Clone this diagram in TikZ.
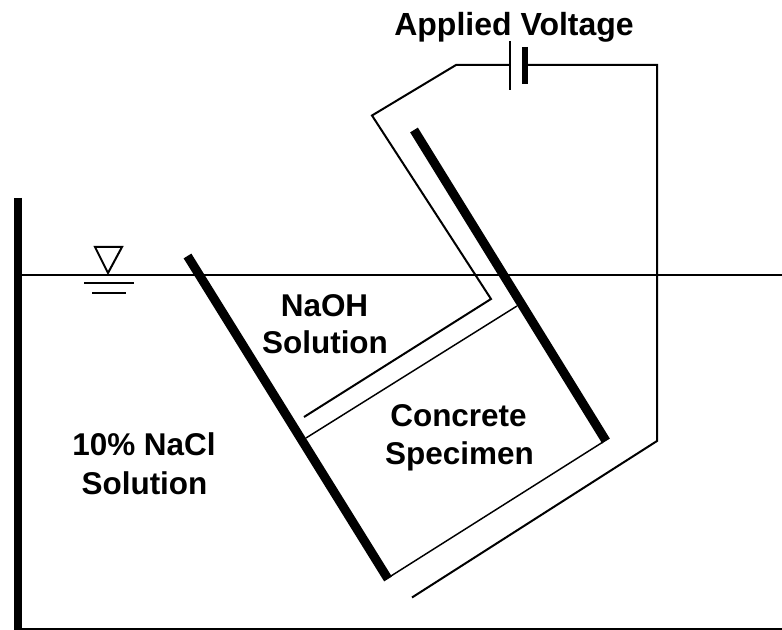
\documentclass[tikz,border=0pt]{standalone}
\usepackage{fontspec}
\setmainfont{Liberation Sans}

\begin{document}
\begin{tikzpicture}[x = 0.75pt, y = -0.75pt, % one unit is one pixel
                line join = miter
            ]

            \tikzstyle{every node}=[inner sep = 0pt, anchor = base,
            font = \fontsize{23.6}{28}\selectfont\bfseries]
            \tikzstyle{wire}=[line width = 1.5pt]
            \tikzstyle{thinwire}=[line width = 1.1pt]
            \tikzstyle{wall}=[line width = 6pt]
            \tikzstyle{slantwall}=[line width = 6.8pt]

            \useasboundingbox (0,0) rectangle (782,630);

            % tank
            \coordinate (walltop) at (18,198); \coordinate (wallbot) at (18,630);
            \coordinate (tankl) at (14,629); \coordinate (tankr) at (782,629);
            \coordinate (waterl) at (22,275); \coordinate (waterr) at (782,275);
            \draw[wall] (walltop) -- (wallbot);
            \draw[line width = 2pt] (tankl) -- (tankr);
            \draw[wire] (waterl) -- (waterr);

            % water level mark
            \coordinate (tria) at (95,247); \coordinate (trib) at (122,247);
            \coordinate (tric) at (108,273);
            \draw[wire] (tria) -- (trib) -- (tric) -- cycle;
            \coordinate (lev1a) at (84,283); \coordinate (lev1b) at (134,283);
            \coordinate (lev2a) at (92,293.5); \coordinate (lev2b) at (126,293.5);
            \draw[wire] (lev1a) -- (lev1b); \draw[wire] (lev2a) -- (lev2b);

            % cell
            \coordinate (lefttop) at (187.5,256); \coordinate (leftbot) at (388,579);
            \coordinate (righttop) at (414,130); \coordinate (rightbot) at (606,441);
            \draw[slantwall] (lefttop) -- (leftbot); \draw[slantwall] (righttop) -- (rightbot);
            \coordinate (spec1a) at (306,438); \coordinate (spec1b) at (517,306);
            \coordinate (spec2a) at (391,576); \coordinate (spec2b) at (603,442);
            \draw[thinwire] (spec1a) -- (spec1b); \draw[thinwire] (spec2a) -- (spec2b);

            % circuit
            \coordinate (w1) at (304,417); \coordinate (w2) at (491,299);
            \coordinate (w3) at (372,115.5); \coordinate (w4) at (456,65);
            \coordinate (w5) at (510,65); \coordinate (w6) at (525,65);
            \coordinate (w7) at (657,65); \coordinate (w8) at (657,441);
            \coordinate (w9) at (412,597.5);
            \draw[wire] (w1) -- (w2) -- (w3) -- (w4) -- (w5);
            \draw[wire] (w6) -- (w7) -- (w8) -- (w9);
            \coordinate (platea) at (510,41); \coordinate (plateb) at (510,90);
            \coordinate (platec) at (525,47); \coordinate (plated) at (525,84);
            \draw[wire] (platea) -- (plateb);
            \draw[line width = 4.5pt] (platec) -- (plated);

            \node (voltage) at (514,36) {\fontsize{24}{28}\selectfont Applied Voltage};
            \node (naoh) at (324.5,316.5) {NaOH};
            \node (solution) at (325,354) {Solution};
            \node (concrete) at (458.5,427) {Concrete};
            \node (specimen) at (459.5,465) {Specimen};
            \node (nacl) at (144,456) {10\% NaCl};
            \node (naclsol) at (144.5,495) {Solution};
\end{tikzpicture}
\end{document}
